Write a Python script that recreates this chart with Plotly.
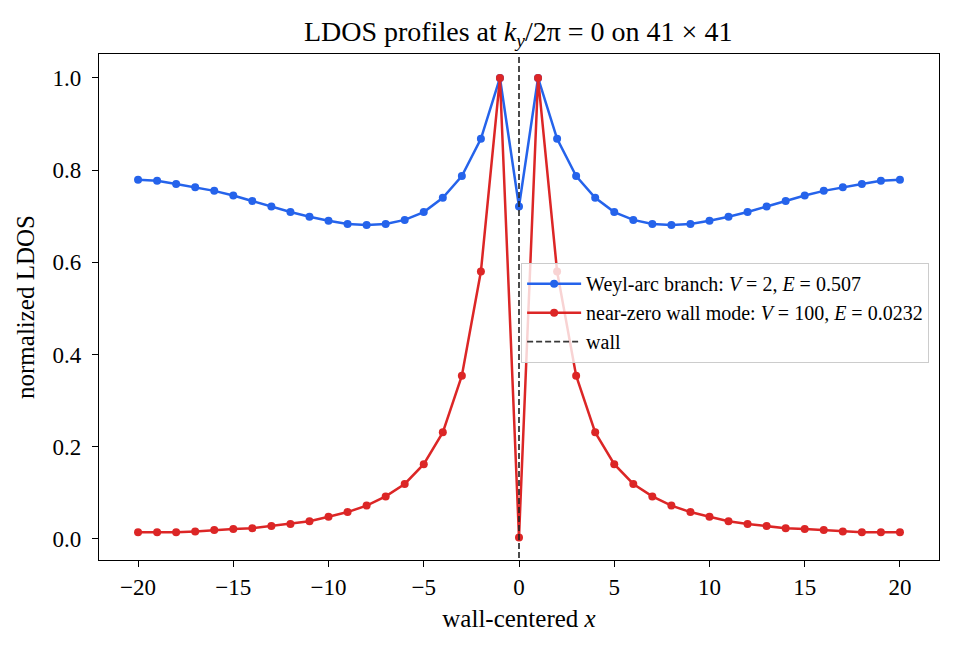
import plotly.graph_objects as go

x_vals = list(range(-20, 21))

weyl_left = [0.779, 0.777, 0.770, 0.763, 0.755, 0.745, 0.733, 0.721, 0.709, 0.699,
             0.690, 0.683, 0.681, 0.683, 0.692, 0.709, 0.740, 0.787, 0.868, 1.000]
weyl_center = [0.721]
weyl_ldos = weyl_left + weyl_center + weyl_left[::-1]

wall_left = [0.014, 0.014, 0.014, 0.016, 0.019, 0.021, 0.023, 0.028, 0.032, 0.038,
             0.048, 0.058, 0.072, 0.092, 0.119, 0.162, 0.231, 0.354, 0.580, 1.000]
wall_center = [0.003]
wall_ldos = wall_left + wall_center + wall_left[::-1]

x_ticks = [-20, -15, -10, -5, 0, 5, 10, 15, 20]
y_ticks = [0.0, 0.2, 0.4, 0.6, 0.8, 1.0]

FONT = "Liberation Serif, DejaVu Serif, serif"
BLUE = "#2563eb"
RED = "#dc2626"

fig = go.Figure()
fig.add_trace(go.Scatter(
    x=x_vals, y=weyl_ldos, mode="lines+markers",
    line=dict(color=BLUE, width=2.5), marker=dict(color=BLUE, size=8),
    name="Weyl-arc branch: <i>V</i> = 2, <i>E</i> = 0.507"))
fig.add_trace(go.Scatter(
    x=x_vals, y=wall_ldos, mode="lines+markers",
    line=dict(color=RED, width=2.5), marker=dict(color=RED, size=8),
    name="near-zero wall mode: <i>V</i> = 100, <i>E</i> = 0.0232"))
fig.add_trace(go.Scatter(
    x=[0, 0], y=[-0.1, 1.2], mode="lines",
    line=dict(color="rgba(34,34,34,0.9)", width=1.8, dash="6px,3px"),
    name="wall"))

axis_common = dict(
    showgrid=False, zeroline=False, showline=True, linecolor="black", linewidth=1.3,
    mirror=True, ticks="outside", ticklen=6, tickwidth=1.3, tickcolor="black",
    tickfont=dict(family=FONT, size=23, color="black"),
)

fig.update_layout(
    width=956, height=650,
    margin=dict(l=99, r=17, t=54, b=90),
    paper_bgcolor="white", plot_bgcolor="white",
    font=dict(family=FONT, color="black"),
    title=dict(text="LDOS profiles at <i>k<sub>y</sub></i>/2π = 0 on 41 × 41",
               x=0.542, xanchor="center", y=1 - 31 / 650, yanchor="middle",
               font=dict(family=FONT, size=28, color="black")),
    xaxis=dict(range=[-22.05, 22.05], tickvals=x_ticks,
               ticktext=[("−" + str(abs(v))) if v < 0 else str(v) for v in x_ticks],
               title=dict(text="wall-centered <i>x</i>", font=dict(family=FONT, size=25),
                          standoff=10),
               **axis_common),
    yaxis=dict(range=[-0.046, 1.052], tickvals=y_ticks,
               ticktext=[f"{v:.1f}" for v in y_ticks],
               ticklabelstandoff=6,
               title=dict(text="normalized LDOS", font=dict(family=FONT, size=25),
                          standoff=10),
               **axis_common),
    legend=dict(x=0.988, xanchor="right", y=0.587, yanchor="top",
                bgcolor="rgba(255,255,255,0.8)", bordercolor="#cccccc", borderwidth=1.2,
                font=dict(family=FONT, size=20, color="black"),
                tracegroupgap=0, itemwidth=54),
    showlegend=True,
)

fig.write_html("out.html")
